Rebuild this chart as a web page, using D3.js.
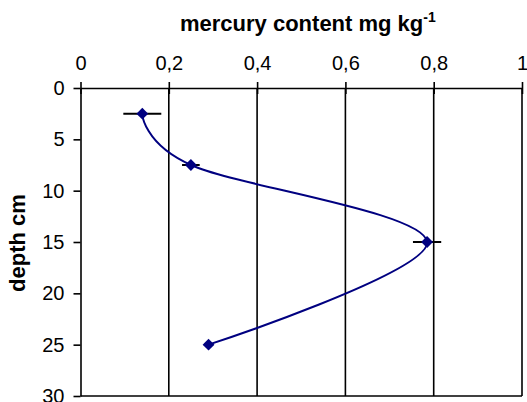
<!DOCTYPE html>
<html>
<head>
<meta charset="utf-8">
<script src="https://cdn.jsdelivr.net/npm/d3@7"></script>
<style>
  body { margin: 0; background: #fff; }
  svg { display: block; font-family: "Liberation Sans", Arial, sans-serif; }
</style>
</head>
<body>
<div id="chart"></div>
<script>
// Profile data
const depths = [2.5, 7.5, 15, 25];
const mercury = [0.14, 0.25, 0.785, 0.29];
const mercuryErr = [0.043, 0.02, 0.032, 0.01];
const xTicks = [0, 0.2, 0.4, 0.6, 0.8, 1];
const yTicks = [0, 5, 10, 15, 20, 25, 30];

const width = 527;
const height = 402;
const navy = "#000080";

const points = depths.map((d, i) => ({ depth: d, hg: mercury[i], err: mercuryErr[i] }));

const svg = d3.select("#chart").append("svg")
  .attr("width", width)
  .attr("height", height);

// Scales
const x = d3.scaleLinear().domain([0, 1]).range([80.5, 522]);
const y = d3.scaleLinear().domain([0, 30]).range([88, 396]);

const fmt = (d) => (d === 0 || d === 1 ? String(d) : d3.format(".1f")(d).replace(".", ","));

// Vertical gridlines
svg.append("g")
  .selectAll("line")
  .data(xTicks.filter((d) => d > 0))
  .join("line")
  .attr("x1", (d) => x(d)).attr("x2", (d) => x(d))
  .attr("y1", y(0)).attr("y2", y(30))
  .attr("stroke", "#000")
  .attr("stroke-width", 1.6);

// Bottom border
svg.append("line")
  .attr("x1", x(0)).attr("x2", x(1))
  .attr("y1", y(30)).attr("y2", y(30))
  .attr("stroke", "#000")
  .attr("stroke-width", 1.6);

// Top axis
const xAxis = svg.append("g")
  .attr("transform", `translate(0,${y(0)})`)
  .call(d3.axisTop(x).tickValues(xTicks).tickFormat(fmt).tickSize(6).tickSizeOuter(0).tickPadding(12));

// Left axis
const yAxis = svg.append("g")
  .attr("transform", `translate(${x(0)},0)`)
  .call(d3.axisLeft(y).tickValues(yTicks).tickSize(7).tickSizeOuter(0).tickPadding(9));

[xAxis, yAxis].forEach((g) => {
  g.selectAll(".domain").attr("stroke", "#000").attr("stroke-width", 1.6);
  g.selectAll(".tick line").attr("stroke", "#000").attr("stroke-width", 1.6);
  g.selectAll(".tick text")
    .attr("fill", "#000")
    .style("font-size", "20px")
    .style("font-family", '"Liberation Sans", Arial, sans-serif');
});

// Top ticks cross the axis line
xAxis.selectAll(".tick line").attr("y2", 6).attr("y1", -6);

// Axis titles
const title = svg.append("text")
  .attr("x", 180)
  .attr("y", 31)
  .attr("text-anchor", "start")
  .style("font-size", "22px")
  .style("font-weight", "bold")
  .text("mercury content mg kg");
title.append("tspan")
  .attr("dy", -9)
  .style("font-size", "14px")
  .text("-1");

svg.append("text")
  .attr("transform", `translate(25,243) rotate(-90)`)
  .attr("text-anchor", "middle")
  .style("font-size", "22px")
  .style("font-weight", "bold")
  .text("depth cm");

// Smoothed profile line
const line = d3.line()
  .x((d) => x(d.hg))
  .y((d) => y(d.depth))
  .curve(d3.curveCardinal.tension(0));

svg.append("path")
  .datum(points)
  .attr("d", line)
  .attr("fill", "none")
  .attr("stroke", navy)
  .attr("stroke-width", 2);

// Horizontal error bars
svg.append("g")
  .selectAll("line")
  .data(points)
  .join("line")
  .attr("x1", (d) => x(d.hg - d.err))
  .attr("x2", (d) => x(d.hg + d.err))
  .attr("y1", (d) => y(d.depth))
  .attr("y2", (d) => y(d.depth))
  .attr("stroke", "#000")
  .attr("stroke-width", 2);

// Diamond markers
svg.append("g")
  .selectAll("path")
  .data(points)
  .join("path")
  .attr("d", d3.symbol(d3.symbolSquare, 70))
  .attr("transform", (d) => `translate(${x(d.hg)},${y(d.depth)}) rotate(45)`)
  .attr("fill", navy);
</script>
</body>
</html>
